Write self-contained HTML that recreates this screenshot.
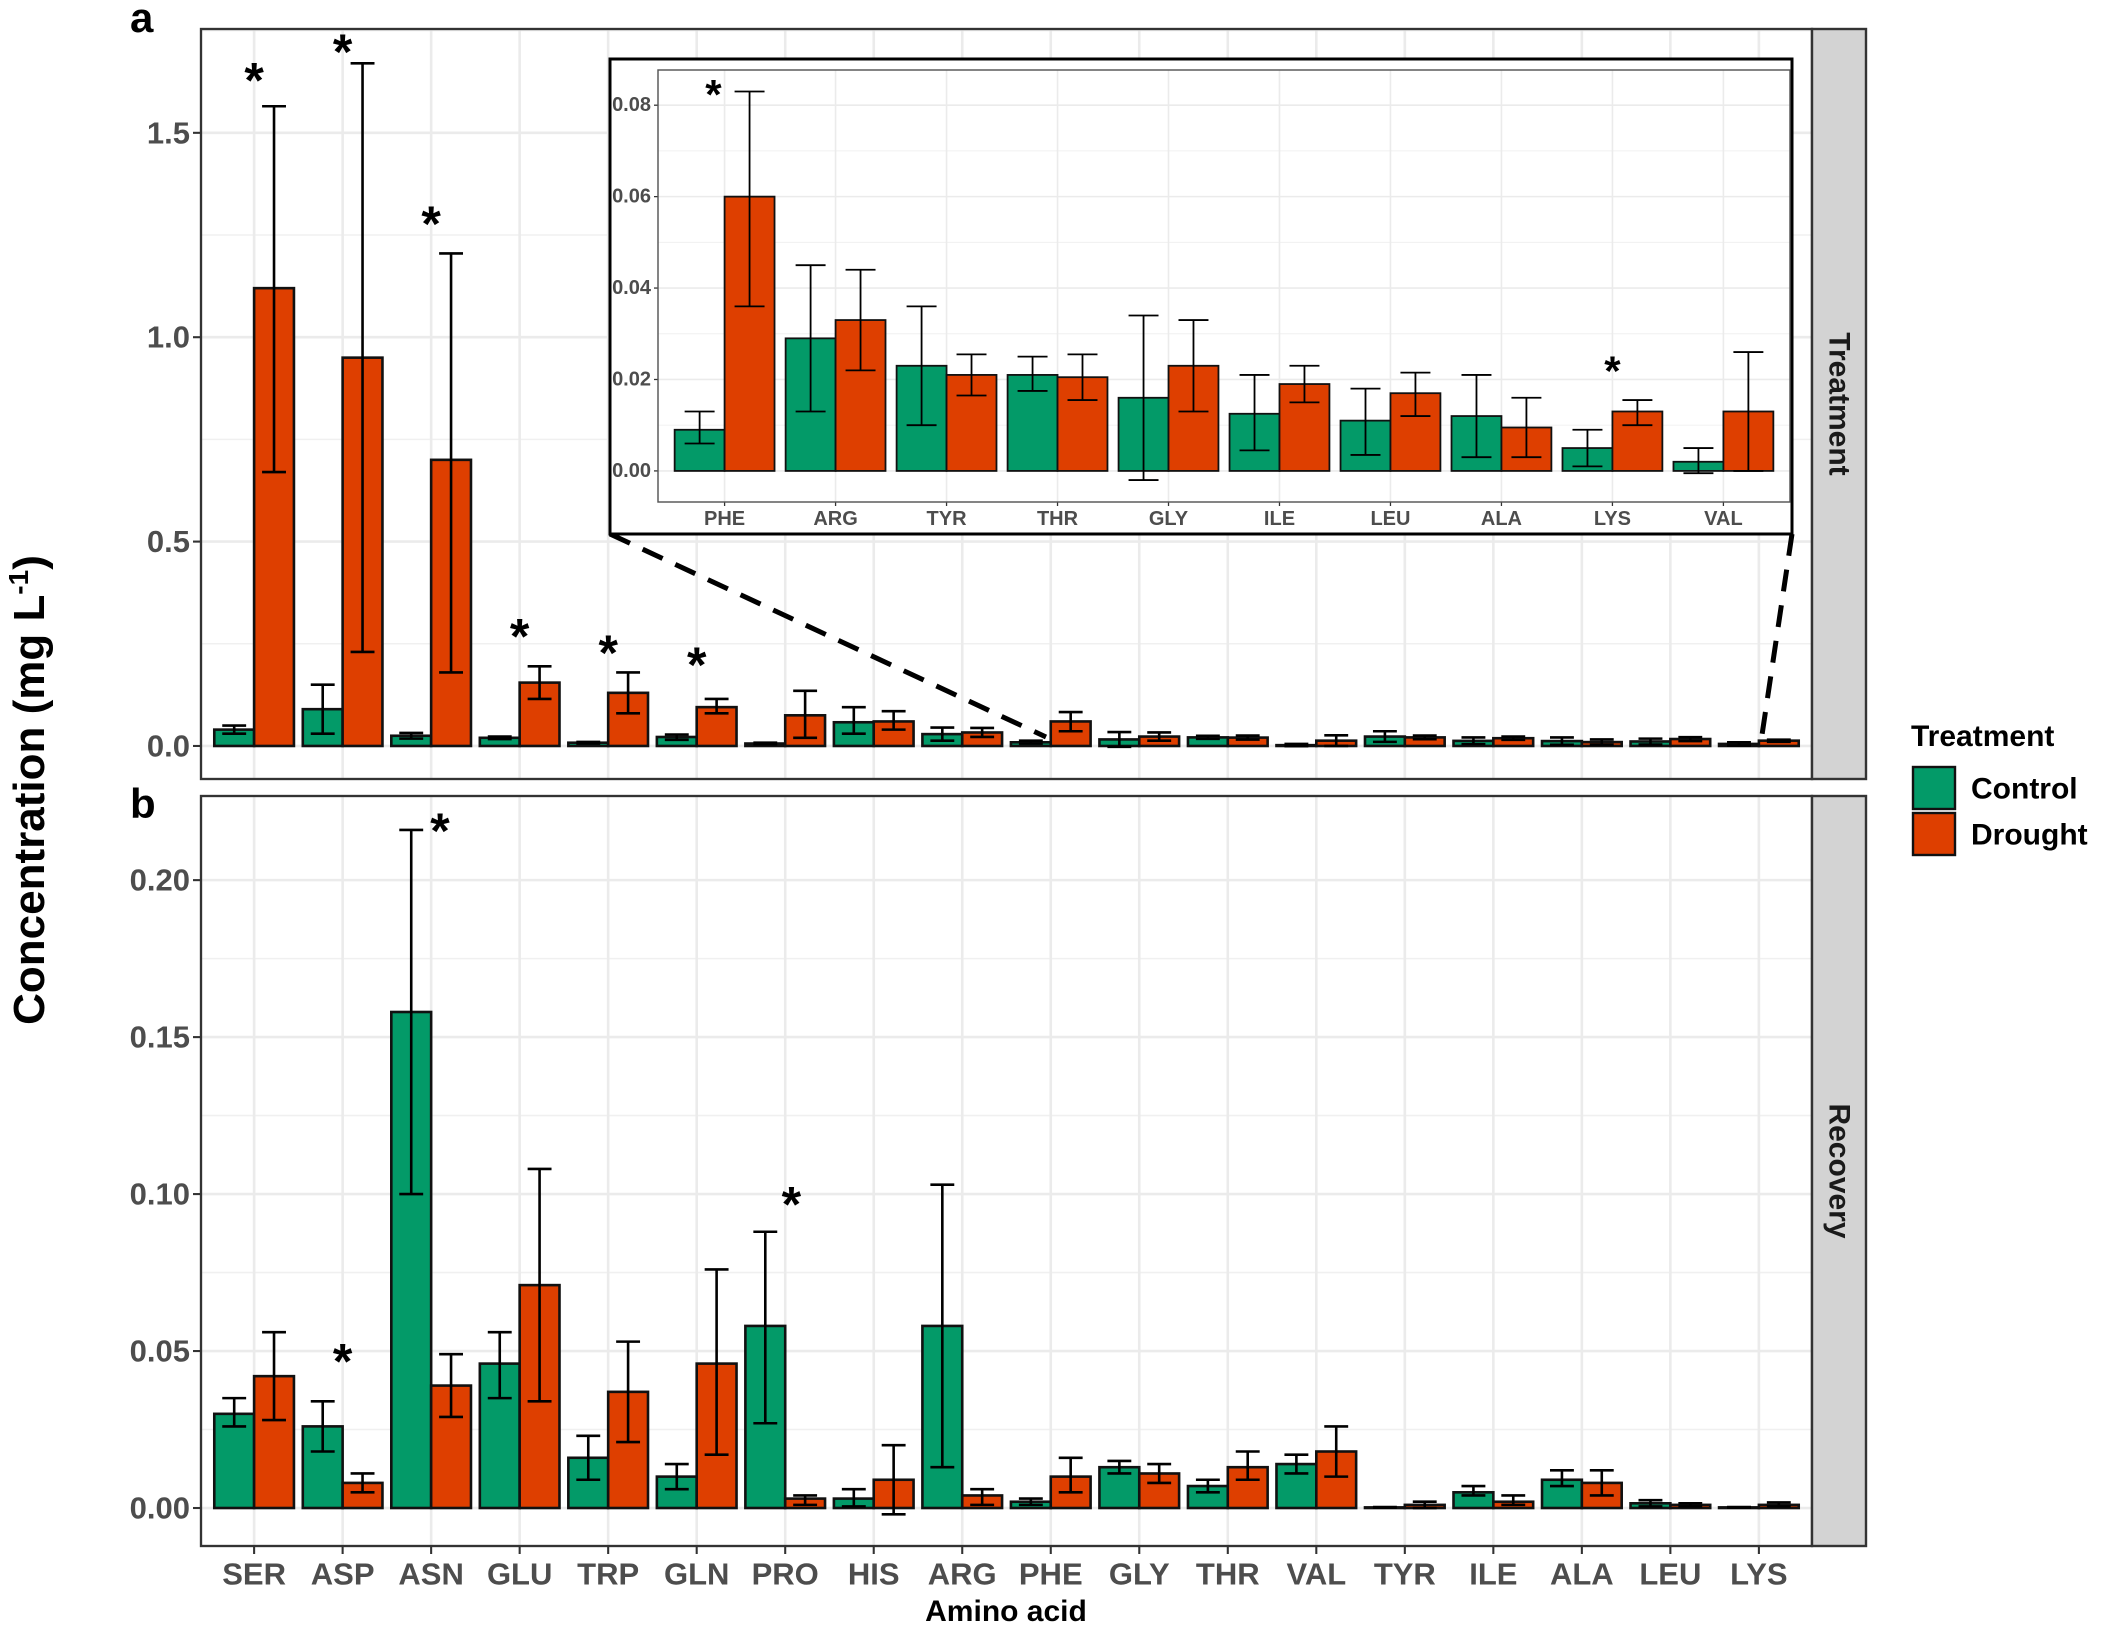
<!DOCTYPE html>
<html><head><meta charset="utf-8"><style>
html,body{margin:0;padding:0;background:#fff;}
svg{display:block;}
text{font-family:"Liberation Sans",sans-serif;}
</style></head><body>
<svg id="chart" width="2102" height="1628" viewBox="0 0 2102 1628" xmlns="http://www.w3.org/2000/svg"></svg>
<script>
const categories=["SER","ASP","ASN","GLU","TRP","GLN","PRO","HIS","ARG","PHE","GLY","THR","VAL","TYR","ILE","ALA","LEU","LYS"];
const treatControl=[0.04,0.09,0.025,0.02,0.008,0.022,0.006,0.058,0.029,0.009,0.016,0.021,0.002,0.023,0.0125,0.012,0.011,0.005];
const treatControlLo=[0.03,0.03,0.018,0.017,0.006,0.015,0.004,0.03,0.013,0.006,-0.002,0.0175,-0.0005,0.01,0.0045,0.003,0.0035,0.001];
const treatControlHi=[0.05,0.15,0.032,0.023,0.01,0.028,0.008,0.095,0.045,0.013,0.034,0.025,0.005,0.036,0.021,0.021,0.018,0.009];
const treatDrought=[1.12,0.95,0.70,0.155,0.13,0.095,0.075,0.06,0.033,0.060,0.023,0.0205,0.013,0.021,0.019,0.0095,0.017,0.013];
const treatDroughtLo=[0.67,0.23,0.18,0.115,0.08,0.08,0.02,0.04,0.022,0.036,0.013,0.0155,0,0.0165,0.015,0.003,0.012,0.010];
const treatDroughtHi=[1.565,1.67,1.205,0.195,0.18,0.115,0.135,0.085,0.044,0.083,0.033,0.0255,0.026,0.0255,0.023,0.016,0.0215,0.0155];
const recControl=[0.030,0.026,0.158,0.046,0.016,0.010,0.058,0.003,0.058,0.002,0.013,0.007,0.014,0.0002,0.005,0.009,0.0015,0.0002];
const recControlLo=[0.026,0.018,0.100,0.035,0.009,0.006,0.027,0.0005,0.013,0.001,0.011,0.005,0.011,0.0001,0.004,0.007,0.0005,0.0001];
const recControlHi=[0.035,0.034,0.216,0.056,0.023,0.014,0.088,0.006,0.103,0.003,0.015,0.009,0.017,0.0003,0.007,0.012,0.0025,0.0003];
const recDrought=[0.042,0.008,0.039,0.071,0.037,0.046,0.003,0.009,0.004,0.010,0.011,0.013,0.018,0.001,0.002,0.008,0.001,0.001];
const recDroughtLo=[0.028,0.005,0.029,0.034,0.021,0.017,0.001,-0.002,0.001,0.005,0.008,0.009,0.010,0,0.001,0.004,0.0005,0.0005];
const recDroughtHi=[0.056,0.011,0.049,0.108,0.053,0.076,0.004,0.020,0.006,0.016,0.014,0.018,0.026,0.002,0.004,0.012,0.0015,0.0018];
const insetCats=["PHE","ARG","TYR","THR","GLY","ILE","LEU","ALA","LYS","VAL"];
const treatTicks=[0,0.5,1.0,1.5];
const treatTickLabels=["0.0","0.5","1.0","1.5"];
const recTicks=[0,0.05,0.10,0.15,0.20];
const recTickLabels=["0.00","0.05","0.10","0.15","0.20"];
const insetTicks=[0,0.02,0.04,0.06,0.08];
const insetTickLabels=["0.00","0.02","0.04","0.06","0.08"];
const starsTreat=[["SER",1.63],["ASP",1.70],["ASN",1.28],["GLU",0.27],["TRP",0.23],["GLN",0.20]];
const starsRec=[["ASP",0.047,0],["ASN",0.216,0.1],["PRO",0.097,0.07]];
const starsInset=[["PHE",0.0825,-0.1],["LYS",0.022,0]];

const GREEN="#039a68", ORANGE="#de3f00";
const svg=document.getElementById('chart');
const NS="http://www.w3.org/2000/svg";
function mk(tag,attrs,parent){const e=document.createElementNS(NS,tag);for(const k in attrs)e.setAttribute(k,attrs[k]);(parent||svg).appendChild(e);return e;}

function panel(o){
  const g=mk('g',{});
  
  
  const n=o.cats.length, step=(o.x1-o.x0)/(n-1+1.2);
  const xc=i=>o.x0+(0.6+i)*step;
  const y=v=>o.y0-(v-o.vmin)/(o.vmax-o.vmin)*(o.y0-o.y1);
  mk('rect',{x:o.x0,y:o.y1,width:o.x1-o.x0,height:o.y0-o.y1,fill:'#fff'},g);
  for(let i=0;i<o.ticks.length-1;i++){const m=(o.ticks[i]+o.ticks[i+1])/2;mk('line',{x1:o.x0,x2:o.x1,y1:y(m),y2:y(m),stroke:'#f0f0f0','stroke-width':o.gw*0.6},g);}
  if(o.extraMinor){const t=o.ticks,d=t[1]-t[0],m=t[t.length-1]+d/2;if(y(m)>o.y1)mk('line',{x1:o.x0,x2:o.x1,y1:y(m),y2:y(m),stroke:'#f0f0f0','stroke-width':o.gw*0.6},g);}
  o.ticks.forEach((t,i)=>{
    const l=mk('line',{x1:o.x0,x2:o.x1,y1:y(t),y2:y(t),stroke:'#ebebeb','stroke-width':o.gw},g);
    
    
    mk('line',{x1:o.x0-o.tl,x2:o.x0,y1:y(t),y2:y(t),stroke:'#333','stroke-width':o.gw*0.8},g);
    const tx=mk('text',{x:o.x0-o.tl-3,y:y(t),'text-anchor':'end','dominant-baseline':'central','font-size':o.fs,'font-weight':'bold',fill:'#4d4d4d'},g);
    tx.textContent=o.tickLabels[i];
    
    
  });
  o.cats.forEach((c,i)=>{mk('line',{x1:xc(i),x2:xc(i),y1:o.y1,y2:o.y0,stroke:'#ebebeb','stroke-width':o.gw},g);});
  const bw=0.45*step;
  o.cats.forEach((c,i)=>{
    const k=o.idx?o.idx(c):i;
    [[o.c,o.cl,o.ch,GREEN,-1,'control'],[o.d,o.dl,o.dh,ORANGE,0,'drought']].forEach(s=>{
      const v=s[0][k], bx=xc(i)+s[4]*bw;
      const top=Math.min(y(v),y(0)), h=Math.abs(y(0)-y(v));
      const r=mk('rect',{x:bx,y:top,width:bw,height:Math.max(h,0.5),fill:s[3],stroke:'#111','stroke-width':o.bs},g);
      
      
      const ex=bx+bw/2, cap=bw*0.3;
      const e=mk('path',{d:`M${ex},${y(s[1][k])}V${y(s[2][k])}M${ex-cap},${y(s[1][k])}H${ex+cap}M${ex-cap},${y(s[2][k])}H${ex+cap}`,stroke:'#000','stroke-width':o.es,fill:'none'},g);
      
      
    });
    if(o.xlab){
      mk('line',{x1:xc(i),x2:xc(i),y1:o.y0,y2:o.y0+o.tl,stroke:'#333','stroke-width':o.gw*0.8},g);
      const t=mk('text',{x:xc(i),y:o.y0+o.xly,'text-anchor':'middle','dominant-baseline':'central','font-size':o.xfs,'font-weight':'bold',fill:'#4d4d4d'},g);
      t.textContent=c;
      
      
    }
  });
  (o.stars||[]).forEach(s=>{
    const i=o.cats.indexOf(s[0]);
    const t=mk('text',{x:xc(i)+(s[2]||0)*step,y:y(s[1])+o.sfs*0.36,'text-anchor':'middle','font-size':o.sfs,'font-weight':'bold',fill:'#000'},g);
    t.textContent='*';
    
    
  });
  mk('rect',{x:o.x0,y:o.y1,width:o.x1-o.x0,height:o.y0-o.y1,fill:'none',stroke:o.border||'#333','stroke-width':o.gw*0.9},g);
  return g;
}
panel({name:'panel-treatment',cats:categories,x0:201,x1:1812,y0:779,y1:29,vmin:-0.0808,vmax:1.754,ticks:treatTicks,tickLabels:treatTickLabels,extraMinor:true,
  c:treatControl,cl:treatControlLo,ch:treatControlHi,d:treatDrought,dl:treatDroughtLo,dh:treatDroughtHi,gw:2.6,tl:8,fs:31,bs:2.6,es:2.6,stars:starsTreat,sfs:50});
panel({name:'panel-recovery',cats:categories,x0:201,x1:1812,y0:1546,y1:796,vmin:-0.0121,vmax:0.2268,ticks:recTicks,tickLabels:recTickLabels,
  c:recControl,cl:recControlLo,ch:recControlHi,d:recDrought,dl:recDroughtLo,dh:recDroughtHi,gw:2.6,tl:8,fs:31,bs:2.6,es:2.6,stars:starsRec,sfs:50,xlab:true,xly:28,xfs:31});
[[29,779,'Treatment','strip-treatment'],[796,1546,'Recovery','strip-recovery']].forEach(s=>{
  const r=mk('rect',{x:1812,y:s[0],width:54,height:s[1]-s[0],fill:'#d3d3d3',stroke:'#333','stroke-width':2.4});
  
  
  const cy=(s[0]+s[1])/2;
  const t=mk('text',{x:1839,y:cy,transform:`rotate(90 1839 ${cy})`,'text-anchor':'middle','dominant-baseline':'central','font-size':30,'font-weight':'600',fill:'#1a1a1a'});
  t.textContent=s[2];
  
  
});
const dl=mk('path',{d:'M610,534L1046,737M1792,534L1762,735',stroke:'#000','stroke-width':5,'stroke-dasharray':'22 14',fill:'none'});


const ib=mk('rect',{x:610,y:59,width:1182,height:475,fill:'#fff',stroke:'#000','stroke-width':3});


panel({name:'inset-panel',cats:insetCats,idx:c=>categories.indexOf(c),x0:658,x1:1790,y0:502,y1:70,vmin:-0.0068,vmax:0.0877,ticks:insetTicks,tickLabels:insetTickLabels,extraMinor:true,
  c:treatControl,cl:treatControlLo,ch:treatControlHi,d:treatDrought,dl:treatDroughtLo,dh:treatDroughtHi,gw:1.6,tl:4,fs:20,bs:1.8,es:1.8,stars:starsInset,sfs:42,xlab:true,xly:17,xfs:20,border:'#555'});
function txt(name,attrs,s){const t=mk('text',attrs);t.textContent=s;return t;}
txt('x-axis-title',{x:1006,y:1621,'text-anchor':'middle','font-size':30,'font-weight':'bold',fill:'#000'},'Amino acid');
const yt=txt('y-axis-title',{x:0,y:0,transform:'translate(44 790) rotate(-90)','text-anchor':'middle','font-size':44,'font-weight':'bold',fill:'#000'},'Concentration (mg L');
const sup=mk('tspan',{dy:-16,'font-size':28},yt);sup.textContent='-1';
const cl=mk('tspan',{dy:16},yt);cl.textContent=')';
txt('panel-label-a',{x:130,y:32,'font-size':42,'font-weight':'bold',fill:'#000'},'a');
txt('panel-label-b',{x:130,y:818,'font-size':42,'font-weight':'bold',fill:'#000'},'b');
txt('legend-title',{x:1911,y:746,'font-size':30,'font-weight':'bold',fill:'#000'},'Treatment');
[[767,GREEN,'Control'],[813,ORANGE,'Drought']].forEach(l=>{
  const r=mk('rect',{x:1913,y:l[0],width:42,height:42,fill:l[1],stroke:'#111','stroke-width':2.4});
  
  
  txt('legend-label-'+l[2].toLowerCase(),{x:1971,y:l[0]+22,'dominant-baseline':'central','font-size':30,'font-weight':'bold',fill:'#000'},l[2]);
});
</script>
</body></html>
